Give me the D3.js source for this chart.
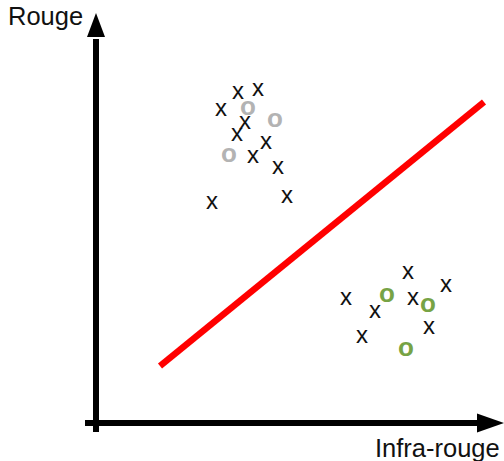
<!DOCTYPE html>
<html>
<head>
<meta charset="utf-8">
<script src="https://cdn.jsdelivr.net/npm/d3@7"></script>
<style>
  html, body { margin: 0; padding: 0; background: #fff; }
  svg { display: block; }
</style>
</head>
<body>
<svg id="chart" width="504" height="461"></svg>
<script>
// ---- Data ----
const xLabel = "Infra-rouge";
const yLabel = "Rouge";

// class A (top-left cluster)
const crossesTopX = [3.55, 4.05, 3.125, 3.725, 3.525, 4.25, 3.925, 4.55, 4.775, 2.9];
const crossesTopY = [8.25, 8.325, 7.825, 7.5, 7.2, 7.0, 6.65, 6.375, 5.65, 5.5];
const circlesTopX = [3.8, 4.475, 3.325];
const circlesTopY = [7.875, 7.575, 6.7];

// class B (bottom-right cluster)
const crossesBottomX = [7.8, 8.75, 6.25, 7.925, 6.975, 8.325, 6.65];
const crossesBottomY = [3.75, 3.425, 3.1, 3.1, 2.775, 2.375, 2.15];
const circlesBottomX = [7.275, 8.3, 7.75];
const circlesBottomY = [3.2, 2.95, 1.85];

// separating line
const sepX = [1.6, 9.7];
const sepY = [1.425, 8.025];

// ---- Scales ----
const x = d3.scaleLinear().domain([0, 10]).range([96, 496]);
const y = d3.scaleLinear().domain([0, 10]).range([423, 23]);

const svg = d3.select("#chart");
const font = "'Liberation Sans', Arial, sans-serif";

// ---- Axes (arrows) ----
svg.append("line")
  .attr("x1", x(-0.275)).attr("y1", y(0))
  .attr("x2", x(9.6)).attr("y2", y(0))
  .attr("stroke", "#000").attr("stroke-width", 6);
svg.append("line")
  .attr("x1", x(0)).attr("y1", y(-0.225))
  .attr("x2", x(0)).attr("y2", y(9.6))
  .attr("stroke", "#000").attr("stroke-width", 6);
// arrow heads
svg.append("path")
  .attr("d", `M${x(10.2)},${y(0)} L${x(9.525)},${y(0) - 9.5} L${x(9.525)},${y(0) + 9.5} Z`)
  .attr("fill", "#000");
svg.append("path")
  .attr("d", `M${x(0)},${y(10.25)} L${x(0) - 9},${y(9.65)} L${x(0) + 9},${y(9.65)} Z`)
  .attr("fill", "#000");

// axis labels
svg.append("text").text(yLabel)
  .attr("x", 8).attr("y", 25)
  .attr("font-family", font).attr("font-size", 25.5)
  .attr("fill", "#111");
svg.append("text").text(xLabel)
  .attr("x", 375).attr("y", 457)
  .attr("font-family", font).attr("font-size", 25.5)
  .attr("fill", "#111");

// ---- Separating line ----
svg.append("line")
  .attr("x1", x(sepX[0])).attr("y1", y(sepY[0]))
  .attr("x2", x(sepX[1])).attr("y2", y(sepY[1]))
  .attr("stroke", "#ff0000").attr("stroke-width", 6.5);

// ---- Markers ----
function marks(xs, ys, glyph, color, size, weight) {
  const pts = xs.map((v, i) => ({ x: v, y: ys[i] }));
  svg.append("g").selectAll("text")
    .data(pts).join("text")
    .text(glyph)
    .attr("x", d => x(d.x))
    .attr("y", d => y(d.y) + size * 0.26)
    .attr("text-anchor", "middle")
    .attr("font-family", font)
    .attr("font-size", size)
    .attr("font-weight", weight)
    .attr("fill", color);
}

marks(circlesTopX, circlesTopY, "o", "#b3b3b3", 26, "bold");
marks(circlesBottomX, circlesBottomY, "o", "#77a345", 26, "bold");
marks(crossesTopX, crossesTopY, "x", "#111", 24, "normal");
marks(crossesBottomX, crossesBottomY, "x", "#111", 24, "normal");
</script>
</body>
</html>
